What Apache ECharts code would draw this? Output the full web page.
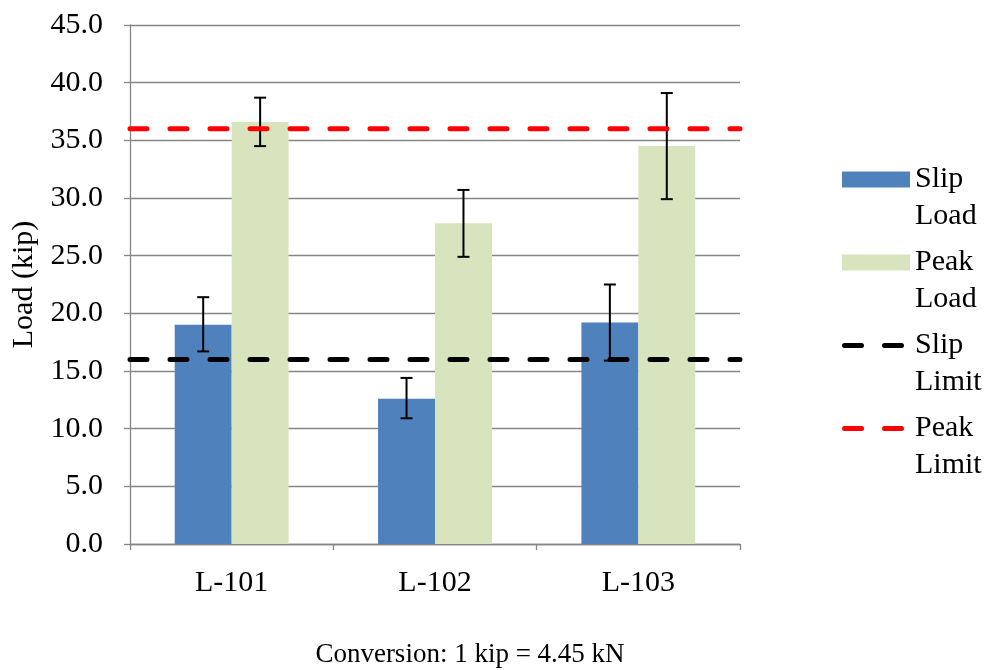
<!DOCTYPE html>
<html>
<head>
<meta charset="utf-8">
<script src="https://cdn.jsdelivr.net/npm/echarts@6/dist/echarts.min.js"></script>
<style>html,body{margin:0;padding:0;background:#fff}#c{width:992px;height:670px}</style>
</head>
<body>
<div id="c"></div>
<script>
var categories = ['L-101', 'L-102', 'L-103'];
var slipLoad = [19.0, 12.6, 19.2];
var slipErrLow = [16.7, 10.9, 15.9];
var slipErrHigh = [21.4, 14.4, 22.5];
var peakLoad = [36.6, 27.8, 34.5];
var peakErrLow = [34.5, 24.9, 29.9];
var peakErrHigh = [38.7, 30.7, 39.1];
var slipLimit = 16;
var peakLimit = 36;
var yTicks = {min: 0, max: 45, interval: 5};

var FONT = 'Liberation Serif';
var GAP = 0.44;
var DASH_ICON = 'path://M0,0M68,16M2.5,5.5h17a2.5,2.5 0 0 1 0,5h-17a2.5,2.5 0 0 1 0,-5zM42.5,5.5h17a2.5,2.5 0 0 1 0,5h-17a2.5,2.5 0 0 1 0,-5z';

function errSeries(low, high, side) {
  return {
    type: 'custom',
    z: 5,
    silent: true,
    data: categories.map(function (c, i) { return [i, low[i], high[i]]; }),
    renderItem: function (params, api) {
      var i = api.value(0);
      var lo = api.coord([i, api.value(1)]);
      var hi = api.coord([i, api.value(2)]);
      var cw = api.size([1, 0])[0];
      var bw = cw * (1 - GAP) / 2;
      var x = lo[0] + side * bw / 2;
      var cap = 6;
      var st = {stroke: '#000', lineWidth: 2};
      return {
        type: 'group',
        children: [
          {type: 'line', shape: {x1: x, y1: hi[1], x2: x, y2: lo[1]}, style: st},
          {type: 'line', shape: {x1: x - cap, y1: hi[1], x2: x + cap, y2: hi[1]}, style: st},
          {type: 'line', shape: {x1: x - cap, y1: lo[1], x2: x + cap, y2: lo[1]}, style: st}
        ]
      };
    }
  };
}

function limitSeries(name, val, color) {
  return {
    name: name,
    type: 'line',
    xAxisIndex: 1,
    z: 10,
    symbol: 'none',
    showSymbol: false,
    silent: true,
    data: [[0, val], [1, val]],
    lineStyle: {color: color, width: 5, type: [17, 23], cap: 'round'},
    itemStyle: {color: color, borderWidth: 0}
  };
}

var chart = echarts.init(document.getElementById('c'), null, {renderer: 'canvas'});
chart.setOption({
  animation: false,
  backgroundColor: '#fff',
  textStyle: {fontFamily: FONT, color: '#000'},
  grid: {left: 130, right: 252, top: 25, bottom: 126, containLabel: false, outerBoundsMode: 'none'},
  legend: {
    orient: 'vertical',
    left: 842,
    top: 124,
    padding: 0,
    itemWidth: 68,
    itemHeight: 16,
    itemGap: -28,
    textStyle: {fontFamily: FONT, fontSize: 30, color: '#000', lineHeight: 37},
    formatter: function (n) { return '\n' + n.replace(' ', '\n'); },
    data: [
      {name: 'Slip Load', icon: 'rect'},
      {name: 'Peak Load', icon: 'rect'},
      {name: 'Slip Limit', icon: DASH_ICON, itemStyle: {color: '#000000', borderWidth: 0}},
      {name: 'Peak Limit', icon: DASH_ICON, itemStyle: {color: '#ff0000', borderWidth: 0}}
    ]
  },
  xAxis: [{
    type: 'category',
    data: categories,
    axisLine: {lineStyle: {color: '#868686', width: 1.3}},
    axisTick: {show: true, length: 6, lineStyle: {color: '#868686', width: 1.3}},
    axisLabel: {fontFamily: FONT, fontSize: 30, color: '#000', margin: 24}
  }, {
    type: 'value', min: 0, max: 1, show: false
  }],
  yAxis: {
    type: 'value',
    min: yTicks.min, max: yTicks.max, interval: yTicks.interval,
    name: 'Load (kip)',
    nameLocation: 'middle',
    nameGap: 88,
    nameRotate: 90,
    nameTextStyle: {fontFamily: FONT, fontSize: 30, color: '#000'},
    axisLine: {show: true, lineStyle: {color: '#868686', width: 1.3}},
    axisTick: {show: true, length: 6, lineStyle: {color: '#868686', width: 1.3}},
    axisLabel: {fontFamily: FONT, fontSize: 30, color: '#000', margin: 27,
      formatter: function (v) { return v.toFixed(1); }},
    splitLine: {lineStyle: {color: '#868686', width: 1.3}}
  },
  series: [
    {name: 'Slip Load', type: 'bar', data: slipLoad, barGap: '0%', barCategoryGap: (GAP * 100) + '%',
      itemStyle: {color: '#4f81bd'}},
    {name: 'Peak Load', type: 'bar', data: peakLoad, itemStyle: {color: '#d7e4bd'}},
    errSeries(slipErrLow, slipErrHigh, -1),
    errSeries(peakErrLow, peakErrHigh, 1),
    limitSeries('Slip Limit', slipLimit, '#000000'),
    limitSeries('Peak Limit', peakLimit, '#ff0000')
  ],
  graphic: [{
    type: 'text',
    x: 470, y: 655,
    style: {text: 'Conversion: 1 kip = 4.45 kN', fontFamily: FONT, fontSize: 27, fill: '#000',
      textAlign: 'center', textVerticalAlign: 'middle'}
  }]
});
</script>
</body>
</html>
